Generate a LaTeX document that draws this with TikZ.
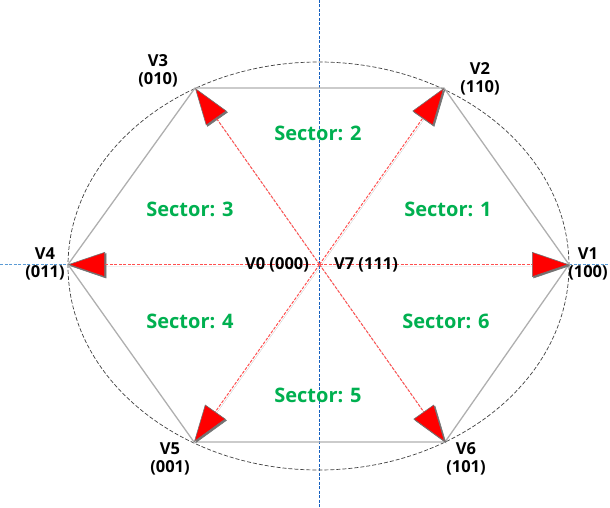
\documentclass[tikz,border=0pt]{standalone}
\usepackage{fontspec}
\setmainfont{Open Sans}
\usetikzlibrary{arrows.meta}
\definecolor{secgreen}{RGB}{0,176,80}
\definecolor{vecred}{RGB}{255,80,80}
\definecolor{hexgray}{RGB}{175,175,175}
\definecolor{axisblue}{RGB}{20,95,190}
\definecolor{axislight}{RGB}{91,155,213}
\tikzset{
  vec/.style={vecred, dash pattern=on 3pt off 1.5pt, line width=1pt,
    -{Triangle[length=37pt,width=25pt,fill=red,color=black!55,line width=0.6pt]}},
  vecshadow/.style={black!45, line width=0.01pt,
    -{Triangle[length=37pt,width=25pt,fill=black!55,color=black!55,line width=0.6pt]}},
  hexedge/.style={hexgray, line width=1.3pt},
  circ/.style={black!75, dash pattern=on 4pt off 2pt, line width=0.7pt},
  vlab/.style={align=center, inner sep=0pt, font=\bfseries\fontsize{16.5}{17.5}\selectfont},
  seclab/.style={inner sep=0pt, text=secgreen, font=\bfseries\fontsize{20}{22}\selectfont},
  zlab/.style={inner sep=0pt, font=\bfseries\fontsize{16.5}{18}\selectfont}
}
\begin{document}
\begin{tikzpicture}[x=1pt,y=-1pt]
\useasboundingbox (0,0) rectangle (610,508);
% vertices of the hexagon and centre
\coordinate (O) at (319.5,264.5);
\coordinate (V1) at (569,264.5);
\coordinate (V2) at (444,88);
\coordinate (V3) at (195,88);
\coordinate (V4) at (68,264.5);
\coordinate (V5) at (194,442);
\coordinate (V6) at (445,442);
\coordinate (Ytop) at (319.5,0);
\coordinate (Ybot) at (319.5,508);
\coordinate (Xl) at (0,264.5);
\coordinate (Xr) at (610,264.5);
% axes
\draw[axisblue, dash pattern=on 3pt off 1.5pt, line width=1pt] (Ytop) -- (Ybot);
\draw[axislight, dash pattern=on 3pt off 1.5pt, line width=1.2pt] (Xl) -- (V4);
\draw[axislight, dash pattern=on 3pt off 1.5pt, line width=1.2pt] (V1) -- (Xr);
% circumscribing ellipse
\draw[circ] (318.5,266) ellipse [x radius=250.5, y radius=204];
% hexagon
\draw[hexedge] (V1) -- (V2) -- (V3) -- (V4) -- (V5) -- (V6) -- cycle;
% shadows under the arrow heads
\foreach \v in {V1,V2,V3,V4,V5,V6}
  \draw[vecshadow, transform canvas={shift={(1.3pt,-1.3pt)}}] (O) -- (\v);
% active vectors
\foreach \v in {V1,V2,V3,V4,V5,V6}
  \draw[vec] (O) -- (\v);
% vertex labels
\node[vlab] (l1) at (588,264) {V1\\(100)};
\node[vlab] (l2) at (480,79) {V2\\(110)};
\node[vlab] (l3) at (158,71) {V3\\(010)};
\node[vlab] (l4) at (45,264) {V4\\(011)};
\node[vlab] (l5) at (170,459) {V5\\(001)};
\node[vlab] (l6) at (466,459) {V6\\(101)};
% zero vectors
\node[zlab] (z0) at (277,265) {V0 (000)};
\node[zlab] (z7) at (366,265) {V7 (111)};
% sectors
\node[seclab] (s1) at (448,209) {Sector: 1};
\node[seclab] (s2) at (318,133) {Sector: 2};
\node[seclab] (s3) at (190,209) {Sector: 3};
\node[seclab] (s4) at (190,321) {Sector: 4};
\node[seclab] (s5) at (318,395) {Sector: 5};
\node[seclab] (s6) at (446,321) {Sector: 6};
\end{tikzpicture}
\end{document}
